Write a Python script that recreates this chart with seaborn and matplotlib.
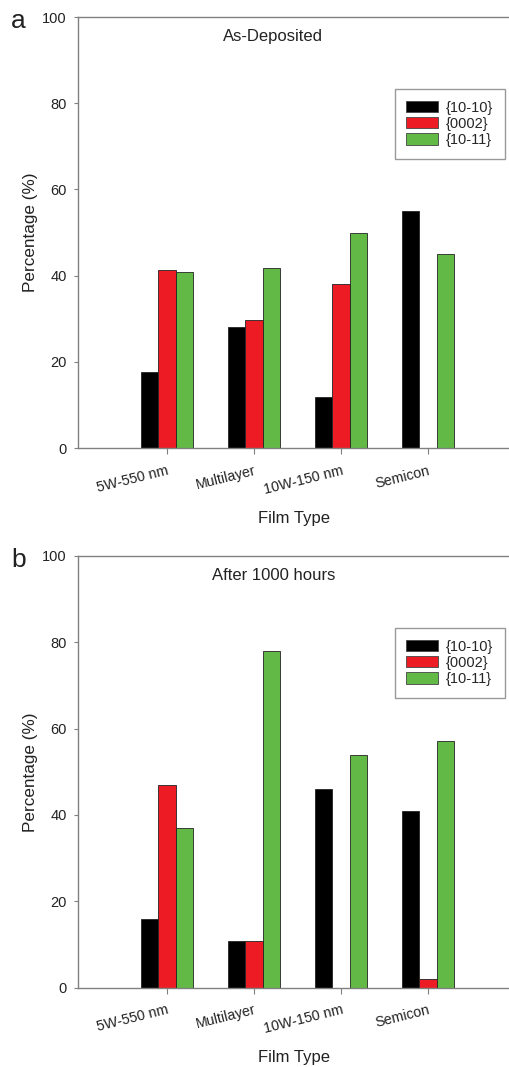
import matplotlib
matplotlib.use("Agg")
import matplotlib.pyplot as plt
import seaborn as sns
import pandas as pd
from matplotlib.patches import Patch

film_types = ["5W-550 nm", "Multilayer", "10W-150 nm", "Semicon"]
planes = ["{10-10}", "{0002}", "{10-11}"]

# As-Deposited
dep_1010 = [17.7, 28.0, 11.8, 55.0]
dep_0002 = [41.4, 29.8, 38.0, 0.0]
dep_1011 = [40.9, 41.9, 50.0, 45.0]

# After 1000 hours
aft_1010 = [16.0, 10.9, 46.0, 41.0]
aft_0002 = [47.0, 10.9, 0.0, 2.0]
aft_1011 = [36.9, 77.9, 54.0, 57.1]

colores = ["#000000", "#ED1C24", "#62B946"]
gris = "#808080"
texto = "#222222"

sns.set_style("white")
plt.rcParams["font.family"] = ["Liberation Sans", "DejaVu Sans"]


def armar_df(v1, v2, v3):
    filas = []
    for plano, vals in zip(planes, [v1, v2, v3]):
        for ft, v in zip(film_types, vals):
            filas.append({"film": ft, "plano": plano, "pct": v})
    return pd.DataFrame(filas)


fig = plt.figure(figsize=(5.10, 10.67), dpi=100)
ax_a = fig.add_axes([0.153, 0.580, 0.847, 0.404])
ax_b = fig.add_axes([0.153, 0.0743, 0.847, 0.4047])

paneles = [
    (ax_a, armar_df(dep_1010, dep_0002, dep_1011), "As-Deposited", "a"),
    (ax_b, armar_df(aft_1010, aft_0002, aft_1011), "After 1000 hours", "b"),
]

for ax, df, titulo, letra in paneles:
    sns.barplot(
        data=df, x="film", y="pct", hue="plano",
        hue_order=planes, order=film_types,
        palette=colores, width=0.6, gap=0,
        edgecolor="#222222", linewidth=0.6,
        saturation=1, ax=ax, legend=False,
    )
    ax.set_ylim(0, 100)
    ax.set_xlim(-1.02, 3.94)
    ax.set_yticks([0, 20, 40, 60, 80, 100])
    ax.set_ylabel("Percentage (%)", fontsize=12.3, color=texto, labelpad=3)
    ax.set_xlabel("Film Type", fontsize=12, color=texto, labelpad=10)
    ax.set_xticks(range(len(film_types)))
    ax.set_xticklabels(film_types, rotation=14, fontsize=10.3, color=texto,
                       ha="right", va="top", rotation_mode="anchor")
    ax.tick_params(axis="y", labelsize=10.5, colors=texto, length=3,
                   direction="out", color=gris, left=True, pad=5)
    ax.tick_params(axis="x", length=4, direction="out", color=gris,
                   bottom=True, pad=7)
    for s in ["left", "bottom", "top"]:
        ax.spines[s].set_color(gris)
        ax.spines[s].set_linewidth(1.0)
    ax.spines["right"].set_visible(False)

    ax.text(0.452, 0.955, titulo, transform=ax.transAxes, ha="center",
            va="center", fontsize=12, color=texto)
    ax.text(-0.138, 0.99, letra, transform=ax.transAxes, ha="center",
            va="center", fontsize=19, color=texto)

    handles = [Patch(facecolor=c, edgecolor="#444444", linewidth=0.6, label=p)
               for c, p in zip(colores, planes)]
    leg = ax.legend(handles=handles, loc="upper right",
                    bbox_to_anchor=(0.988, 0.833), borderaxespad=0,
                    fontsize=10.5, frameon=True, fancybox=False,
                    handlelength=2.2, handleheight=0.8, labelspacing=0.15,
                    borderpad=0.8, handletextpad=0.5)
    leg.get_frame().set_edgecolor(gris)
    leg.get_frame().set_linewidth(1.0)

fig.savefig("out.png", dpi=100)
